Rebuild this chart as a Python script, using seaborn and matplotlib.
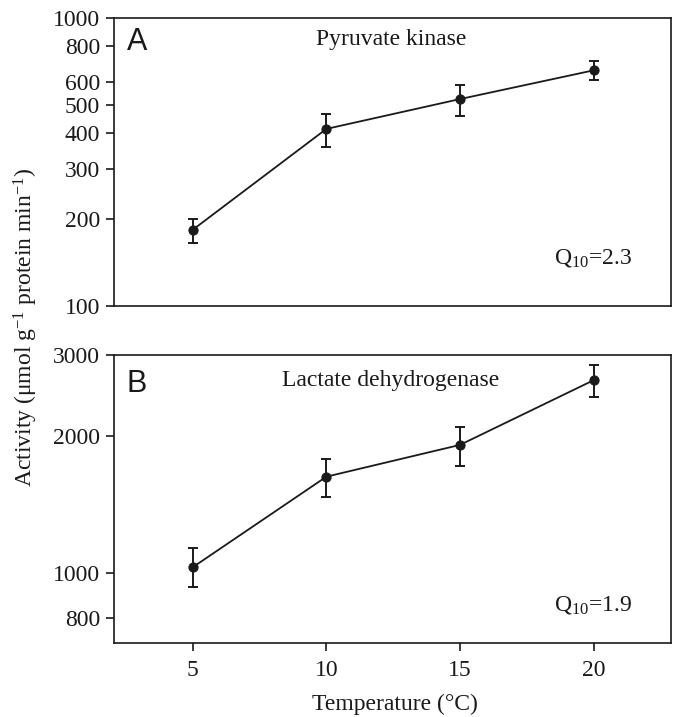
import numpy as np
import pandas as pd
import matplotlib
matplotlib.use("Agg")
import matplotlib.pyplot as plt
import seaborn as sns
from matplotlib.ticker import FixedLocator, NullLocator, FixedFormatter

temperature = [5, 10, 15, 20]
pk_activity = [184, 412, 523, 658]
pk_err_low = [18, 56, 65, 49]
pk_err_high = [17, 52, 62, 51]
ldh_activity = [1031, 1626, 1908, 2642]
ldh_err_low = [99, 156, 189, 218]
ldh_err_high = [103, 152, 183, 211]

pk_ticks = [100, 200, 300, 400, 500, 600, 800, 1000]
ldh_ticks = [800, 1000, 2000, 3000]
x_ticks = [5, 10, 15, 20]

sns.set_theme(style="white")
plt.rcParams["font.family"] = ["Liberation Serif", "DejaVu Serif"]
plt.rcParams["mathtext.fontset"] = "custom"
plt.rcParams["mathtext.rm"] = "Liberation Serif"
plt.rcParams["mathtext.it"] = "Liberation Serif:italic"
plt.rcParams["mathtext.default"] = "regular"

W, H = 673, 717
fig = plt.figure(figsize=(W / 100, H / 100), dpi=100)

def box(l, t, r, b):
    return [l / W, 1 - b / H, (r - l) / W, (b - t) / H]

ax1 = fig.add_axes(box(114, 18, 671, 306))
ax2 = fig.add_axes(box(114, 355, 671, 643))

dark = "#1a1a1a"
fs = 17

def panel(ax, y, elo, ehi, ylim, ticks, letter, title, q10, q10y, titley, lettery):
    df = pd.DataFrame({"T": temperature, "A": y})
    ax.errorbar(temperature, y, yerr=[elo, ehi], fmt="none", ecolor=dark,
                elinewidth=1.4, capsize=3.8, capthick=1.4, zorder=2)
    sns.lineplot(data=df, x="T", y="A", ax=ax, color=dark, linewidth=1.3,
                 marker="o", markersize=6.6, markeredgecolor=dark,
                 markerfacecolor=dark, zorder=3)
    ax.set_yscale("log")
    ax.set_ylim(*ylim)
    ax.set_xlim(2.05, 22.9)
    ax.yaxis.set_major_locator(FixedLocator(ticks))
    ax.yaxis.set_major_formatter(FixedFormatter([str(t) for t in ticks]))
    ax.yaxis.set_minor_locator(NullLocator())
    ax.set_xlabel("")
    ax.set_ylabel("")
    for s in ax.spines.values():
        s.set_color(dark)
        s.set_linewidth(1.2)
    ax.tick_params(axis="y", which="major", direction="out", length=6, width=1.2,
                   color=dark, labelsize=fs, labelcolor=dark, pad=4, left=True)
    ax.text(0.023, lettery, letter, transform=ax.transAxes, fontsize=22,
            family=["Liberation Sans", "DejaVu Sans"], color=dark,
            ha="left", va="center")
    ax.text(0.497, titley, title, transform=ax.transAxes, fontsize=fs,
            color=dark, ha="center", va="center")
    ax.text(0.93, q10y, "Q$_{10}$=" + q10, transform=ax.transAxes, fontsize=fs,
            color=dark, ha="right", va="center")

panel(ax1, pk_activity, pk_err_low, pk_err_high, (100, 1000), pk_ticks,
      "A", "Pyruvate kinase", "2.3", 0.167, 0.924, 0.917)
panel(ax2, ldh_activity, ldh_err_low, ldh_err_high, (704, 3000), ldh_ticks,
      "B", "Lactate dehydrogenase", "1.9", 0.132, 0.91, 0.90)

ax1.set_xticks([])
ax2.set_xticks(x_ticks)
ax2.set_xticklabels([str(t) for t in x_ticks])
ax2.tick_params(axis="x", direction="out", length=6, width=1.2, color=dark,
                labelsize=fs, labelcolor=dark, pad=6, bottom=True)

fig.text(26 / W, 1 - 327 / H, "Activity (μmol g$^{-1}$ protein min$^{-1}$)",
         rotation=90, ha="center", va="center", fontsize=fs, color=dark)
fig.text(395 / W, 1 - 704 / H, "Temperature (°C)", ha="center", va="center",
         fontsize=fs, color=dark)

fig.savefig("out.png", dpi=100, facecolor="white")
